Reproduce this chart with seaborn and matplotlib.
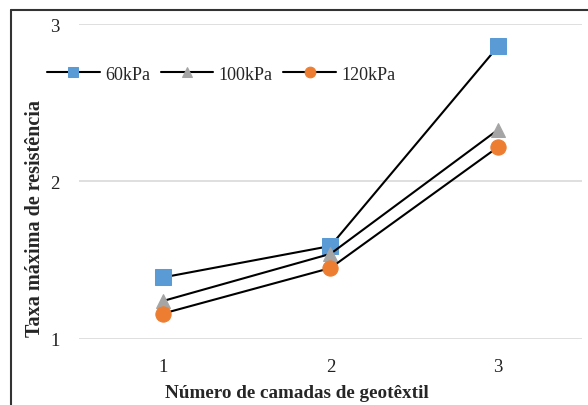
import matplotlib
matplotlib.use("Agg")
import matplotlib.pyplot as plt
import seaborn as sns
import pandas as pd
from matplotlib.lines import Line2D

layers = [1, 2, 3]
p60 = [1.39, 1.59, 2.86]
p100 = [1.24, 1.54, 2.33]
p120 = [1.16, 1.45, 2.22]
series_names = ["60kPa", "100kPa", "120kPa"]
colors = ["#5B9BD5", "#A5A5A5", "#ED7D31"]
markers = ["s", "^", "o"]
msizes = [11, 10, 11]
yticks = [1, 2, 3]

sns.set_theme(style="white")
plt.rcParams['font.family'] = ['Liberation Serif', 'DejaVu Serif']

fig = plt.figure(figsize=(5.88, 4.06), dpi=100)
ax = fig.add_axes([0.134, 0.163, 0.856, 0.775])

for name, vals, c, m, ms in zip(series_names, [p60, p100, p120], colors, markers, msizes):
    df = pd.DataFrame({"x": layers, "y": vals})
    sns.lineplot(data=df, x="x", y="y", ax=ax, color="black", linewidth=1.5,
                 marker=m, markersize=ms, markerfacecolor=c, markeredgecolor=c,
                 label=name)

ax.set_xlim(0.5, 3.5)
ax.set_ylim(1, 3)
ax.set_yticks(yticks)
ax.set_xticks(layers)
ax.set_yticklabels([str(t) for t in yticks], fontsize=13.5)
ax.set_xticklabels([str(t) for t in layers], fontsize=13.5)
ax.tick_params(axis='both', length=0, colors='#222222')
ax.tick_params(axis='y', pad=14)
ax.tick_params(axis='x', pad=14)
ax.yaxis.grid(True, color='#d9d9d9', linewidth=1.2)
ax.set_axisbelow(True)
for s in ax.spines.values():
    s.set_visible(False)

ax.set_xlabel("Número de camadas de geotêxtil", fontsize=13.8, fontweight='bold')
ax.set_ylabel("Taxa máxima de resistência", fontsize=14.5, fontweight='bold')
ax.xaxis.set_label_coords(0.433, -0.143)
ax.yaxis.set_label_coords(-0.068, 0.387)

leg = ax.legend(loc='upper left', bbox_to_anchor=(-0.095, 0.92), ncol=3, frameon=False,
                fontsize=13, handlelength=2.9, handletextpad=0.3, columnspacing=0.6,
                markerscale=0.7)

fig.add_artist(Line2D([11/588, 11/588], [0, (406-11)/406], transform=fig.transFigure,
                      color='#333333', linewidth=1.5))
fig.add_artist(Line2D([11/588, 1], [(406-11)/406, (406-11)/406], transform=fig.transFigure,
                      color='#333333', linewidth=1.5))

fig.savefig("out.png", dpi=100)
